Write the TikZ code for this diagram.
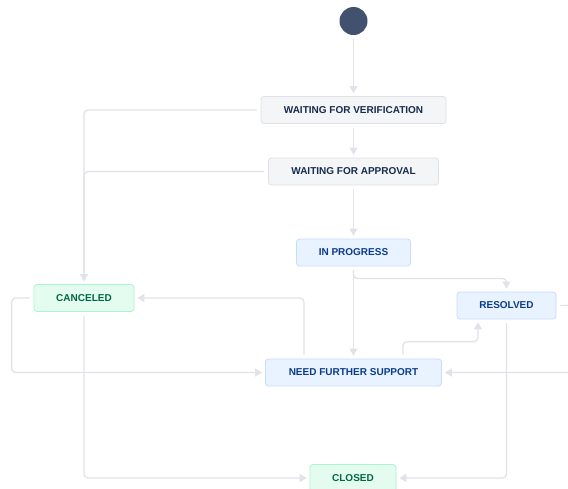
\documentclass[tikz,border=0pt]{standalone}
\usepackage{fontspec}
\setmainfont{Liberation Sans}
\usetikzlibrary{arrows.meta}

\definecolor{todoFill}{HTML}{F4F5F7}
\definecolor{todoLine}{HTML}{DFE1E6}
\definecolor{todoText}{HTML}{172B4D}
\definecolor{doingFill}{HTML}{E9F2FF}
\definecolor{doingLine}{HTML}{C7DCFF}
\definecolor{doingText}{HTML}{0B3C8C}
\definecolor{doneFill}{HTML}{E3FCEF}
\definecolor{doneLine}{HTML}{ABF5D1}
\definecolor{doneText}{HTML}{006644}
\definecolor{flowLine}{HTML}{E1E3E8}
\definecolor{startFill}{HTML}{42526E}

\begin{document}
\begin{tikzpicture}[x=1pt, y=-1pt, >={Triangle[width=8pt,length=7pt]},
    state/.style={rounded corners=3pt, line width=0.8pt, inner sep=0pt,
        minimum height=27pt, font=\fontsize{10}{12}\selectfont\bfseries},
    todo/.style={state, fill=todoFill, draw=todoLine, text=todoText},
    doing/.style={state, fill=doingFill, draw=doingLine, text=doingText},
    done/.style={state, fill=doneFill, draw=doneLine, text=doneText},
    flow/.style={->, draw=flowLine, line width=1.3pt, rounded corners=4pt,
        shorten <=4pt, shorten >=3pt}]

    \useasboundingbox (0,0) rectangle (568,488);
    \fill[white] (0,0) rectangle (568,488);

    % ---------- 状态节点 ----------
    \node[circle, fill=startFill, minimum size=28pt, inner sep=0pt] (start) at (353.5,21) {};
    \node[todo, minimum width=185pt] (wfv) at (353.5,110) {WAITING FOR VERIFICATION};
    \node[todo, minimum width=170pt] (wfa) at (353.5,171.5) {WAITING FOR APPROVAL};
    \node[doing, minimum width=114pt] (ip) at (353.5,252.5) {IN PROGRESS};
    \node[done, minimum width=100pt] (can) at (84,298) {CANCELED};
    \node[doing, minimum width=99pt] (res) at (506.5,305.5) {RESOLVED};
    \node[doing, minimum width=176pt] (nfs) at (353.5,372.5) {NEED FURTHER SUPPORT};
    \node[done, minimum width=86pt] (clo) at (353,478) {CLOSED};

    % ---------- 主干 ----------
    \foreach \a/\b in {start/wfv, wfv/wfa, wfa/ip, ip/nfs}
        \draw[flow] (\a) -- (\b);

    % ---------- 取消 ----------
    \draw[flow] (wfv.west) -| (can.north);
    \draw[flow] (wfa.west) -| (can.north);
    \draw[flow] ([xshift=-49.5pt]nfs.north) |- (can.east);
    \draw[flow] (can.west) -- ++(-22,0) |- (nfs.west);

    % ---------- 解决 ----------
    \draw[flow] (ip.south) -- ++(0,12) -| (res.north);
    \draw[flow] ([xshift=49.5pt]nfs.north) -- ++(0,-17) -| ([xshift=-28.5pt]res.south);
    \draw[flow] (res.east) -- ++(22,0) |- (nfs.east);

    % ---------- 关闭 ----------
    \draw[flow] (can.south) |- (clo.west);
    \draw[flow] (res.south) |- (clo.east);

\end{tikzpicture}
\end{document}
